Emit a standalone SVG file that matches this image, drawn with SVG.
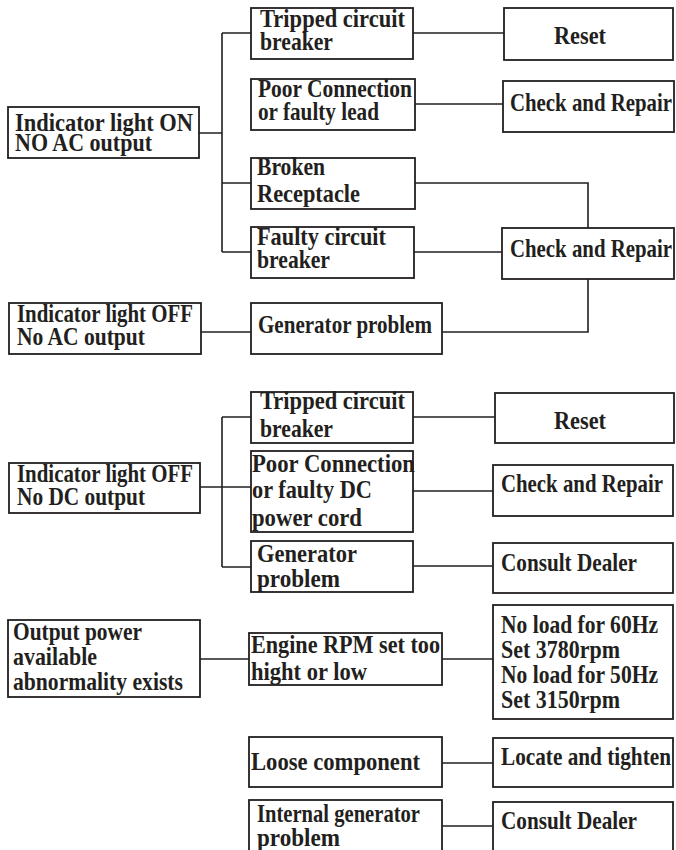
<svg xmlns="http://www.w3.org/2000/svg" width="676" height="850" viewBox="0 0 676 850">
<style>
.b{fill:#fff;stroke:#231f20;stroke-width:1.8}
.c{fill:none;stroke:#231f20;stroke-width:1.6}
text{font-family:"Liberation Serif","Times New Roman",serif;font-weight:bold;font-size:21px;fill:#231f20}
</style>
<rect width="676" height="850" fill="#fff"/>
<g id="connectors">
<path class="c" d="M199 133H222M222 33V252M222 33H251M222 183H251M222 252H251"/>
<path class="c" d="M413 33H504M415 104H503M415 183H588V228M414 252H502M442 332H588V279M201 332H251"/>
<path class="c" d="M200 487H251M222 417V567M222 417H251M222 567H251M413 417H495M413 491H493M413 566H493"/>
<path class="c" d="M200 659H249M442 659H493M442 763H493M442 826H493"/>
</g>
<g id="n1"><rect class="b" x="8" y="107" width="191" height="51"/><text x="15" y="131" transform="matrix(1 0 0 1.2 0 -26.2)" textLength="178" lengthAdjust="spacingAndGlyphs">Indicator light ON</text><text x="15" y="151" transform="matrix(1 0 0 1.2 0 -30.2)" textLength="137" lengthAdjust="spacingAndGlyphs">NO AC output</text></g>
<g id="n2"><rect class="b" x="251" y="8" width="162" height="51"/><text x="260" y="27" transform="matrix(1 0 0 1.2 0 -5.4)" textLength="145" lengthAdjust="spacingAndGlyphs">Tripped circuit</text><text x="260" y="50" transform="matrix(1 0 0 1.2 0 -10)" textLength="73" lengthAdjust="spacingAndGlyphs">breaker</text></g>
<g id="n3"><rect class="b" x="504" y="8" width="169" height="52"/><text x="554" y="44" transform="matrix(1 0 0 1.2 0 -8.8)" textLength="52" lengthAdjust="spacingAndGlyphs">Reset</text></g>
<g id="n4"><rect class="b" x="251" y="79" width="164" height="51"/><text x="258" y="97" transform="matrix(1 0 0 1.2 0 -19.4)" textLength="154" lengthAdjust="spacingAndGlyphs">Poor Connection</text><text x="258" y="120" transform="matrix(1 0 0 1.2 0 -24)" textLength="121" lengthAdjust="spacingAndGlyphs">or faulty lead</text></g>
<g id="n5"><rect class="b" x="503" y="81" width="171" height="51"/><text x="510" y="111" transform="matrix(1 0 0 1.2 0 -22.2)" textLength="162" lengthAdjust="spacingAndGlyphs">Check and Repair</text></g>
<g id="n6"><rect class="b" x="251" y="158" width="164" height="51"/><text x="257" y="175" transform="matrix(1 0 0 1.2 0 -35)" textLength="68" lengthAdjust="spacingAndGlyphs">Broken</text><text x="257" y="202" transform="matrix(1 0 0 1.2 0 -40.4)" textLength="103" lengthAdjust="spacingAndGlyphs">Receptacle</text></g>
<g id="n7"><rect class="b" x="251" y="227" width="163" height="51"/><text x="257" y="245" transform="matrix(1 0 0 1.2 0 -49)" textLength="129" lengthAdjust="spacingAndGlyphs">Faulty circuit</text><text x="257" y="268" transform="matrix(1 0 0 1.2 0 -53.6)" textLength="73" lengthAdjust="spacingAndGlyphs">breaker</text></g>
<g id="n8"><rect class="b" x="502" y="228" width="172" height="51"/><text x="510" y="257" transform="matrix(1 0 0 1.2 0 -51.4)" textLength="162" lengthAdjust="spacingAndGlyphs">Check and Repair</text></g>
<g id="n9"><rect class="b" x="9" y="303" width="192" height="51"/><text x="17" y="322" transform="matrix(1 0 0 1.2 0 -64.4)" textLength="176" lengthAdjust="spacingAndGlyphs">Indicator light OFF</text><text x="17" y="345" transform="matrix(1 0 0 1.2 0 -69)" textLength="128" lengthAdjust="spacingAndGlyphs">No AC output</text></g>
<g id="n10"><rect class="b" x="251" y="303" width="191" height="51"/><text x="258" y="333" transform="matrix(1 0 0 1.2 0 -66.6)" textLength="174" lengthAdjust="spacingAndGlyphs">Generator problem</text></g>
<g id="n11"><rect class="b" x="9" y="463" width="191" height="50"/><text x="17" y="482" transform="matrix(1 0 0 1.2 0 -96.4)" textLength="176" lengthAdjust="spacingAndGlyphs">Indicator light OFF</text><text x="17" y="505" transform="matrix(1 0 0 1.2 0 -101)" textLength="128" lengthAdjust="spacingAndGlyphs">No DC output</text></g>
<g id="n12"><rect class="b" x="251" y="392" width="162" height="51"/><text x="260" y="409" transform="matrix(1 0 0 1.2 0 -81.8)" textLength="145" lengthAdjust="spacingAndGlyphs">Tripped circuit</text><text x="260" y="437" transform="matrix(1 0 0 1.2 0 -87.4)" textLength="73" lengthAdjust="spacingAndGlyphs">breaker</text></g>
<g id="n13"><rect class="b" x="495" y="393" width="179" height="50"/><text x="554" y="429" transform="matrix(1 0 0 1.2 0 -85.8)" textLength="52" lengthAdjust="spacingAndGlyphs">Reset</text></g>
<g id="n14"><rect class="b" x="251" y="451" width="162" height="81"/><text x="252" y="472" transform="matrix(1 0 0 1.2 0 -94.4)" textLength="163" lengthAdjust="spacingAndGlyphs">Poor Connection</text><text x="252" y="498" transform="matrix(1 0 0 1.2 0 -99.6)" textLength="120" lengthAdjust="spacingAndGlyphs">or faulty DC</text><text x="252" y="526" transform="matrix(1 0 0 1.2 0 -105.2)" textLength="110" lengthAdjust="spacingAndGlyphs">power cord</text></g>
<g id="n15"><rect class="b" x="493" y="465" width="180" height="51"/><text x="501" y="492" transform="matrix(1 0 0 1.2 0 -98.4)" textLength="162" lengthAdjust="spacingAndGlyphs">Check and Repair</text></g>
<g id="n16"><rect class="b" x="251" y="541" width="162" height="51"/><text x="257" y="562" transform="matrix(1 0 0 1.2 0 -112.4)" textLength="100" lengthAdjust="spacingAndGlyphs">Generator</text><text x="257" y="587" transform="matrix(1 0 0 1.2 0 -117.4)" textLength="83" lengthAdjust="spacingAndGlyphs">problem</text></g>
<g id="n17"><rect class="b" x="493" y="543" width="180" height="50"/><text x="501" y="571" transform="matrix(1 0 0 1.2 0 -114.2)" textLength="136" lengthAdjust="spacingAndGlyphs">Consult Dealer</text></g>
<g id="n18"><rect class="b" x="8" y="620" width="192" height="77"/><text x="13" y="640" transform="matrix(1 0 0 1.2 0 -128)" textLength="129" lengthAdjust="spacingAndGlyphs">Output power</text><text x="13" y="665" transform="matrix(1 0 0 1.2 0 -133)" textLength="84" lengthAdjust="spacingAndGlyphs">available</text><text x="13" y="690" transform="matrix(1 0 0 1.2 0 -138)" textLength="170" lengthAdjust="spacingAndGlyphs">abnormality exists</text></g>
<g id="n19"><rect class="b" x="249" y="633" width="193" height="52"/><text x="251" y="653" transform="matrix(1 0 0 1.2 0 -130.6)" textLength="189" lengthAdjust="spacingAndGlyphs">Engine RPM set too</text><text x="251" y="680" transform="matrix(1 0 0 1.2 0 -136)" textLength="116" lengthAdjust="spacingAndGlyphs">hight or low</text></g>
<g id="n20"><rect class="b" x="493" y="605" width="180" height="114"/><text x="501" y="633" transform="matrix(1 0 0 1.2 0 -126.6)" textLength="157" lengthAdjust="spacingAndGlyphs">No load for 60Hz</text><text x="501" y="658" transform="matrix(1 0 0 1.2 0 -131.6)" textLength="119" lengthAdjust="spacingAndGlyphs">Set 3780rpm</text><text x="501" y="683" transform="matrix(1 0 0 1.2 0 -136.6)" textLength="157" lengthAdjust="spacingAndGlyphs">No load for 50Hz</text><text x="501" y="708" transform="matrix(1 0 0 1.2 0 -141.6)" textLength="119" lengthAdjust="spacingAndGlyphs">Set 3150rpm</text></g>
<g id="n21"><rect class="b" x="249" y="737" width="193" height="50"/><text x="251" y="770" transform="matrix(1 0 0 1.2 0 -154)" textLength="169" lengthAdjust="spacingAndGlyphs">Loose component</text></g>
<g id="n22"><rect class="b" x="493" y="738" width="180" height="49"/><text x="501" y="765" transform="matrix(1 0 0 1.2 0 -153)" textLength="170" lengthAdjust="spacingAndGlyphs">Locate and tighten</text></g>
<g id="n23"><rect class="b" x="249" y="800" width="193" height="70"/><text x="257" y="822" transform="matrix(1 0 0 1.2 0 -164.4)" textLength="163" lengthAdjust="spacingAndGlyphs">Internal generator</text><text x="257" y="846" transform="matrix(1 0 0 1.2 0 -169.2)" textLength="83" lengthAdjust="spacingAndGlyphs">problem</text></g>
<g id="n24"><rect class="b" x="493" y="802" width="180" height="70"/><text x="501" y="829" transform="matrix(1 0 0 1.2 0 -165.8)" textLength="136" lengthAdjust="spacingAndGlyphs">Consult Dealer</text></g>
</svg>
